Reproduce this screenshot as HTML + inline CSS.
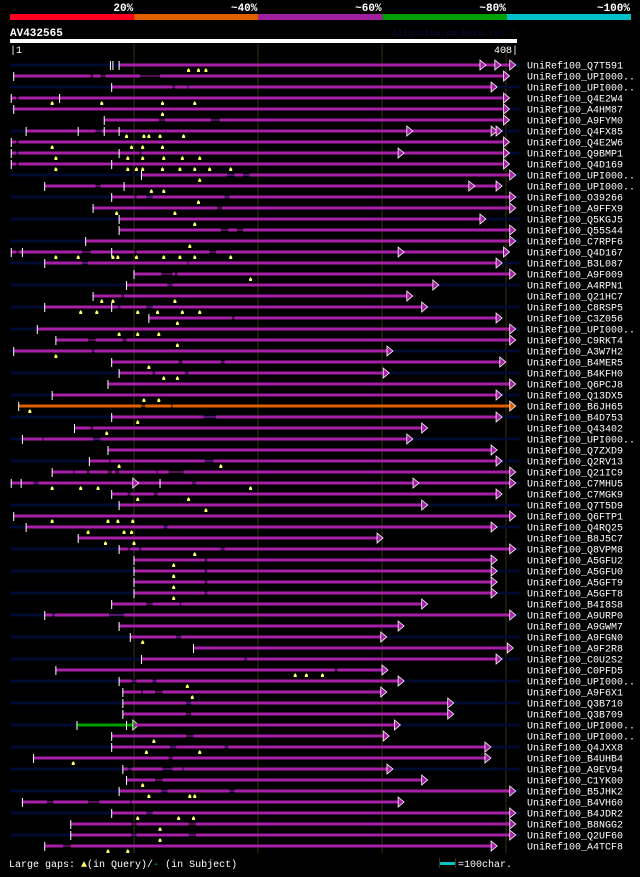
<!DOCTYPE html>
<html><head><meta charset="utf-8">
<style>
html,body{margin:0;padding:0;background:#000;}
body{width:640px;height:872px;overflow:hidden;font-family:"Liberation Mono","DejaVu Sans Mono",monospace;}
svg text{font-family:"Liberation Mono","DejaVu Sans Mono",monospace;}
</style></head>
<body>
<svg id="chart" width="640" height="872" viewBox="0 0 640 872" xmlns="http://www.w3.org/2000/svg">
<rect x="0" y="0" width="640" height="872" fill="#000"/>
<g id="header"></g>
<g id="grid"></g>
<g id="rows"></g>
<g id="footer"></g>
</svg>
<script>
const QUERY_LEN = 408;
const bandLabels = ["20%","~40%","~60%","~80%","~100%"];
const bandColors = ["#ff0022","#e06000","#a020a0","#00a000","#00c0c8"];
const gridTicks = [100,200,300,400];
const rowNames = ["Q7T591","UPI000..","UPI000..","Q4E2W4","A4HM87","A9FYM0","Q4FX85","Q4E2W6","Q9BMP1","Q4D169","UPI000..","UPI000..","O39266","A9FFX9","Q5KGJ5","Q55S44","C7RPF6","Q4D167","B3L087","A9F009","A4RPN1","Q21HC7","C8RSP5","C3Z056","UPI000..","C9RKT4","A3W7H2","B4MER5","B4KFH0","Q6PCJ8","Q13DX5","B6JH65","B4D753","Q43402","UPI000..","Q7ZXD9","Q2RV13","Q21IC9","C7MHU5","C7MGK9","Q7T5D9","Q6FTP1","Q4RQ25","B8J5C7","Q8VPM8","A5GFU2","A5GFU0","A5GFT9","A5GFT8","B4I8S8","A9URP0","A9GWM7","A9FGN0","A9F2R8","C0U2S2","C0PFD5","UPI000..","A9F6X1","Q3B710","Q3B709","UPI000..","UPI000..","Q4JXX8","B4UHB4","A9EV94","C1YK00","B5JHK2","B4VH60","B4JDR2","B8NGG2","Q2UF60","A4TCF8"];
const rowStart = [88,3,82,1,3,76,13,1,1,1,106,28,82,67,88,88,61,1,28,100,94,67,28,112,22,37,3,82,88,79,34,7,82,52,10,79,64,34,1,82,88,3,13,55,88,100,100,100,100,82,28,88,97,148,106,37,88,91,91,91,54,82,82,19,91,94,88,10,82,49,49,28];
const rowEnd = [403,398,388,398,398,398,392,398,398,398,403,392,403,403,379,403,403,398,392,403,341,320,332,392,403,403,304,395,301,403,392,403,392,332,320,388,392,403,403,392,332,403,388,296,403,388,388,388,388,332,403,313,299,401,392,300,313,299,353,353,310,301,383,383,304,332,403,313,403,403,403,388];
const rowGaps = [[],[[65,67],[73,77],[105,121]],[[131,133],[143,144]],[[5,7]],[],[[120,125],[162,169]],[[69,74]],[[5,7]],[[5,7],[104,106]],[[5,7]],[[175,181],[188,193]],[[69,73]],[[100,102],[110,115],[173,177]],[[167,171]],[],[[170,176],[183,188]],[],[[5,7],[58,65],[100,102],[161,166]],
[[58,63],[143,144]],[[122,131],[133,135]],[[127,131]],[[90,92]],[[87,89],[110,115]],[[179,181]],[],[[63,69],[91,94]],[[66,68]],[[136,139],[170,173]],[[115,117],[141,144]],[],[],[[106,109],[130,131]],[[156,166]],[[65,67]],[[26,27],[67,73]],[],
[[80,81],[157,164]],[[51,52],[62,64],[79,82],[85,88],[118,119],[128,140]],[[19,23],[147,150]],[[95,97],[116,119]],[],[],[[124,127]],[],[[95,97],[104,106],[170,173]],[[157,159]],[[157,159]],[[157,159]],[[157,159]],[[110,115],[137,138]],[[34,36],[80,92]],[],[[134,138]],[],
[[189,191]],[[262,264]],[[98,102],[115,118]],[[106,107],[117,123]],[[142,146]],[[142,146]],[],[[142,148]],[[129,134],[173,176]],[[128,131]],[[95,98],[123,131],[139,140]],[[117,123]],[[122,127],[177,181]],[[30,35],[63,72],[97,98]],[[110,115]],[[98,102],[144,150]],[[98,102],[144,150]],[[43,49]]];
const rowExtraTicks = [[81,83],[],[],[40],[],[],[55,76,88],[],[88],[82],[],[92],[],[],[],[],[],[10,82],[],[],[],[],[82],[],[],[],[],[],[],[],[],[],[],[],[],[],[],[],[9,121],[],[],[],[],[],[],[],[],[],[],[],[],[],[],[],[],[],[],[],[],[],[94],[],[],[],[],[],[],[],[],[],[],[]];
const rowExtraArrows = [[379,391],[],[],[],[],[],[320,388],[],[313],[],[],[370],[],[],[],[],[],[313],[],[],[],[],[],[],[],[],[],[],[],[],[],[],[],[],[],[],[],[],[99,325],[],[],[],[],[],[],[],[],[],[],[],[],[],[],[],[],[],[],[],[],[],[],[],[],[],[],[],[],[],[],[],[],[]];
const rowMarkers = [[144,152,158],[],[],[34,74,123,149],[123],[],[94,108,112,121,140],[34,98,107,123],[37,95,107,124,139,153],[37,95,102,107,123,137,149,161,178],[153],[114,124],[152],[86,133],[149],[],[145],[37,55,83,87,102,124,137,149,178],
[],[194],[],[74,83,133],[57,70,103,119,139,153],[135],[88,103,120],[135],[37],[112],[124,135],[],[108,120],[16],[103],[78],[],[],
[88,170],[],[34,57,71,194],[103,144],[158],[34,79,87,99],[63,92,98],[77,100],[149],[132],[132],[132],[132],[],[],[],[107],[],
[],[230,239,252],[143],[147],[],[],[],[116],[110,153],[51],[],[107],[112,145,149],[],[103,136,148],[121],[121],[79,95]];
const rowColor = {31:"#e06000"};
const greenRow = 60, greenEnd = 99;

const NS="http://www.w3.org/2000/svg";
const X0=10, PX=1.24;
function xs(q){return X0+q*PX;}
function ys(i){return 65+11*i;}
function el(tag,attrs,parent){const e=document.createElementNS(NS,tag);for(const k in attrs)e.setAttribute(k,attrs[k]);parent.appendChild(e);return e;}

// header
const hdr=document.getElementById('header');
bandColors.forEach((c,i)=>{
  const r=el('rect',{x:xs(i*QUERY_LEN/5*1.0)+0,y:14,width:124.2,height:6,fill:c},hdr);
  r.setAttribute('x',10+i*124.2);
  
  
  const t=el('text',{x:10+(i+1)*124.2-1,y:11,fill:'#fff','font-size':'11','font-weight':'bold','text-anchor':'end'},hdr);
  t.textContent=bandLabels[i];
  
  
});
let t=el('text',{x:10,y:36,fill:'#fff','font-size':'11','font-weight':'bold'},hdr);t.textContent='AV432565';


t=el('text',{x:516,y:36,fill:'#0a0a3a','font-size':'9','text-anchor':'end'},hdr);t.textContent='AlignView.pm Beta rel.7';


let qb=el('rect',{x:10,y:39,width:507,height:4,fill:'#fff'},hdr);


t=el('text',{x:10,y:53,fill:'#fff','font-size':'10'},hdr);t.textContent='|1';


t=el('text',{x:518,y:53,fill:'#fff','font-size':'10','text-anchor':'end'},hdr);t.textContent=QUERY_LEN+'|';



// grid
const grid=document.getElementById('grid');
gridTicks.forEach(g=>{
  const l=el('rect',{x:xs(g)-0.5,y:44,width:1,height:809,fill:'#3a3410'},grid);
  
  
});

// rows
const rows=document.getElementById('rows');
function arrow(g,q,y,c){
  const x=xs(q);
  const p=el('polygon',{points:`${x},${y-5} ${x+6},${y} ${x},${y+5}`,fill:c,stroke:'#fff','stroke-width':'0.8'},g);
  
  
}
rowNames.forEach((nm,i)=>{
  const y=ys(i);
  const g=el('g',{},rows);
  
  
  if(i%2===0){
    const bg=el('rect',{x:10,y:y-1.5,width:510,height:3,fill:'#000a30'},g);
    
    
  }
  const c=rowColor[i]||'#a61fa6';
  let s=rowStart[i];
  const pieces=[];
  if(i===greenRow){
    const gr=el('rect',{x:xs(s),y:y-1.5,width:xs(greenEnd)-xs(s),height:3,fill:'#00a000'},g);
    
    
    arrow(g,greenEnd,y,'#00a000');
    s=greenEnd+1;
  }
  let cur=s;
  rowGaps[i].forEach(([a,b])=>{
    pieces.push([cur,a]);
    const gl=el('rect',{x:xs(a),y:y-0.5,width:xs(b)-xs(a),height:1,fill:c},g);
    
    
    cur=b;
  });
  pieces.push([cur,rowEnd[i]]);
  pieces.forEach(([a,b])=>{
    const r=el('rect',{x:xs(a),y:y-1.5,width:Math.max(0,xs(b)-xs(a)),height:3,fill:c},g);
    
    
  });
  [rowStart[i]].concat(rowExtraTicks[i]).forEach(q=>{
    const tk=el('rect',{x:xs(q)-0.5,y:y-4,width:1,height:9,fill:'#fff'},g);
    
    
  });
  rowExtraArrows[i].forEach(q=>arrow(g,q,y,c));
  arrow(g,rowEnd[i],y,c);
  rowMarkers[i].forEach(q=>{
    const x=xs(q);
    const m=el('polygon',{points:`${x-1.5},${y+7} ${x-1.5},${y+5} ${x},${y+3} ${x+1.5},${y+5} ${x+1.5},${y+7}`,fill:'#ffff66'},g);
    
    
  });
  const lb=el('text',{x:527,y:y+3.5,fill:'#fff','font-size':'10'},g);
  lb.textContent='UniRef100_'+nm;
  
  
});

// footer
const ft=document.getElementById('footer');
t=el('text',{x:9,y:867,fill:'#fff','font-size':'10'},ft);
t.innerHTML='Large gaps: <tspan fill="#ffff66">▲</tspan>(in Query)/<tspan fill="#00c0c8">-</tspan> (in Subject)';


let sb=el('rect',{x:440,y:862,width:15,height:3,fill:'#00c0c8'},ft);


el('rect',{x:439,y:858,width:1,height:10,fill:'#3a3410'},ft);
el('rect',{x:455,y:858,width:1,height:10,fill:'#3a3410'},ft);
t=el('text',{x:458,y:867,fill:'#fff','font-size':'10'},ft);t.textContent='=100char.';


</script>
</body></html>
